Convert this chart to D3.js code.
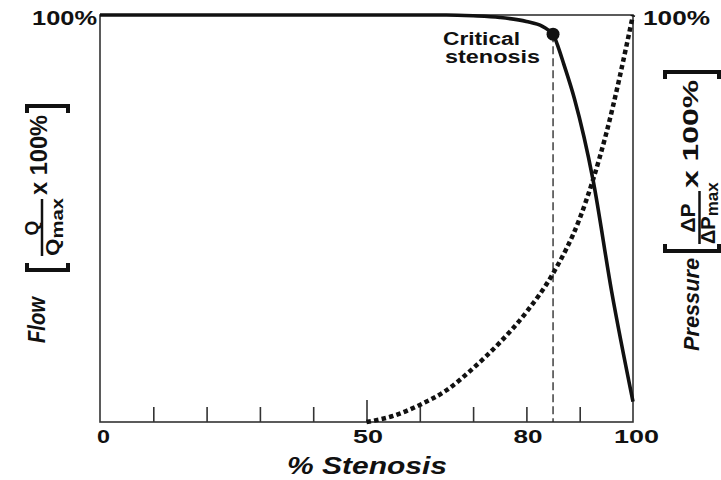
<!DOCTYPE html>
<html>
<head>
<meta charset="utf-8">
<script src="https://cdn.jsdelivr.net/npm/d3@7"></script>
<style>
  html, body { margin: 0; padding: 0; background: #fff; }
  svg { display: block; }
  text { font-family: "Liberation Sans", Arial, Helvetica, sans-serif; font-weight: bold; fill: #111; }
</style>
</head>
<body>
<div id="chart"></div>
<script>
// ---- data ----
const stenosis = [0, 50, 60, 65, 70, 75, 80, 83, 84, 85, 86, 87, 89, 92.5, 96, 100];
const flowPct  = [100, 100, 100, 100, 99.8, 99.4, 98.4, 97.2, 96.4, 95.3, 92, 88, 79.5, 59.5, 32, 5];
const pressStenosis = [50, 55, 60, 65, 70, 75, 80, 85, 90, 95, 100];
const pressurePct   = [0, 1.5, 4.2, 7.8, 13.2, 19.5, 27, 36.5, 50, 71, 100];
const minorTicks = [10, 20, 30, 40, 60, 70, 80, 90];
const majorTicks = [50];
const tickLabels = [0, 50, 80, 100];
const criticalStenosis = 85;
const criticalFlow = 95.3;

const W = 721, H = 480;
const svg = d3.select("#chart").append("svg").attr("width", W).attr("height", H);

const x = d3.scaleLinear().domain([0, 100]).range([100, 633]);
const y = d3.scaleLinear().domain([0, 100]).range([422, 15]);

// frame
svg.append("rect")
  .attr("x", x(0)).attr("y", y(100))
  .attr("width", x(100) - x(0)).attr("height", y(0) - y(100))
  .attr("fill", "none").attr("stroke", "#333").attr("stroke-width", 1.6);

// inward ticks
const minorAxis = d3.axisBottom(x).tickValues(minorTicks).tickSizeInner(-15).tickSizeOuter(0).tickFormat("");
const gMinor = svg.append("g").attr("transform", `translate(0,${y(0)})`).call(minorAxis);
const majorAxis = d3.axisBottom(x).tickValues(majorTicks).tickSizeInner(-22).tickSizeOuter(0).tickFormat("");
const gMajor = svg.append("g").attr("transform", `translate(0,${y(0)})`).call(majorAxis);
[gMinor, gMajor].forEach(g => {
  g.select(".domain").remove();
  g.selectAll(".tick line").attr("stroke", "#333").attr("stroke-width", 1.6);
});

// tick labels
const labelLen = {0: 13, 50: 30, 80: 29, 100: 45};
const labelAxis = d3.axisBottom(x).tickValues(tickLabels).tickSize(0).tickPadding(0).tickFormat(d3.format("d"));
const gLab = svg.append("g").attr("transform", `translate(0,${y(0)})`).call(labelAxis);
gLab.select(".domain").remove();
gLab.selectAll(".tick text")
  .attr("y", 21).attr("dy", 0)
  .attr("fill", "#111")
  .style("font-family", '"Liberation Sans", Arial, sans-serif')
  .style("font-weight", "bold")
  .style("font-size", "19px")
  .attr("dx", d => d === 100 ? 3 : (d === 0 ? 3 : 1))
  .attr("textLength", d => labelLen[d])
  .attr("lengthAdjust", "spacingAndGlyphs");

// x title
svg.append("text").attr("x", 367).attr("y", 474).attr("text-anchor", "middle")
  .style("font-size", "23px").style("font-style", "italic")
  .attr("textLength", 160).attr("lengthAdjust", "spacingAndGlyphs")
  .text("% Stenosis");

// 100% labels
svg.append("text").attr("x", 97).attr("y", 25).attr("text-anchor", "end")
  .style("font-size", "21px").attr("textLength", 65).attr("lengthAdjust", "spacingAndGlyphs").text("100%");
svg.append("text").attr("x", 643).attr("y", 25).attr("text-anchor", "start")
  .style("font-size", "21px").attr("textLength", 67).attr("lengthAdjust", "spacingAndGlyphs").text("100%");

// dashed critical line
svg.append("line")
  .attr("x1", x(criticalStenosis)).attr("x2", x(criticalStenosis))
  .attr("y1", y(criticalFlow)).attr("y2", y(0))
  .attr("stroke", "#222").attr("stroke-width", 1.3).attr("stroke-dasharray", "8,4");

// pressure (dotted)
const pressLine = d3.line().x((d, i) => x(pressStenosis[i])).y(d => y(d)).curve(d3.curveMonotoneX);
svg.append("path").attr("d", pressLine(pressurePct))
  .attr("fill", "none").attr("stroke", "#111").attr("stroke-width", 4.5)
  .attr("stroke-dasharray", "4.5,3.2");

// flow (solid)
const flowLine = d3.line().x((d, i) => x(stenosis[i])).y(d => y(d)).curve(d3.curveMonotoneX);
svg.append("path").attr("d", flowLine(flowPct))
  .attr("fill", "none").attr("stroke", "#111").attr("stroke-width", 3.6);

// critical dot
svg.append("circle").attr("cx", x(criticalStenosis)).attr("cy", y(criticalFlow)).attr("r", 6.5).attr("fill", "#111");

// annotation
svg.append("text").attr("x", 443).attr("y", 45).style("font-size", "18px")
  .attr("textLength", 77).attr("lengthAdjust", "spacingAndGlyphs").text("Critical");
svg.append("text").attr("x", 445).attr("y", 63).style("font-size", "18px")
  .attr("textLength", 95).attr("lengthAdjust", "spacingAndGlyphs").text("stenosis");

// ---- rotated axis titles ----
// group rotated -90; local x = -screenY, local y = screenX
function bracket(g, sy, x1, x2, dir) {
  const lx = -sy, s = 7 * dir;
  g.append("path")
    .attr("d", `M${lx + s},${x1} L${lx},${x1} L${lx},${x2} L${lx + s},${x2}`)
    .attr("fill", "none").attr("stroke", "#111").attr("stroke-width", 4).attr("stroke-linejoin", "miter");
}

// left
const gl = svg.append("g").attr("transform", "rotate(-90)");
gl.append("text").attr("x", -343).attr("y", 45).style("font-size", "23px").style("font-style", "italic")
  .attr("textLength", 46).attr("lengthAdjust", "spacingAndGlyphs").text("Flow");
bracket(gl, 270, 27, 68, 1);
gl.append("text").attr("x", -228).attr("y", 38).attr("text-anchor", "middle").style("font-size", "19px").text("Q");
gl.append("line").attr("x1", -256).attr("x2", -199).attr("y1", 42).attr("y2", 42).attr("stroke", "#111").attr("stroke-width", 2.5);
const dl = gl.append("text").attr("x", -227).attr("y", 59).attr("text-anchor", "middle").style("font-size", "19px")
  .attr("textLength", 58).attr("lengthAdjust", "spacingAndGlyphs");
dl.append("tspan").text("Q");
dl.append("tspan").attr("dy", 4).style("font-size", "17px").text("max");
gl.append("text").attr("x", -195).attr("y", 47).style("font-size", "23px")
  .attr("textLength", 80).attr("lengthAdjust", "spacingAndGlyphs").text("x 100%");
bracket(gl, 106, 27, 68, -1);

// right
const gr = svg.append("g").attr("transform", "rotate(-90)");
gr.append("text").attr("x", -351).attr("y", 699).style("font-size", "22px").style("font-style", "italic")
  .attr("textLength", 93).attr("lengthAdjust", "spacingAndGlyphs").text("Pressure");
bracket(gr, 251, 665, 719, 1);
gr.append("text").attr("x", -218).attr("y", 695).attr("text-anchor", "middle").style("font-size", "21px").text("ΔP");
gr.append("line").attr("x1", -244).attr("x2", -191).attr("y1", 699.5).attr("y2", 699.5).attr("stroke", "#111").attr("stroke-width", 2.5);
const dr = gr.append("text").attr("x", -244).attr("y", 715).attr("text-anchor", "start").style("font-size", "20px");
dr.append("tspan").text("ΔP");
dr.append("tspan").attr("dy", 3).style("font-size", "17px").text("max");
gr.append("text").attr("x", -188).attr("y", 698).style("font-size", "22px")
  .attr("textLength", 108).attr("lengthAdjust", "spacingAndGlyphs").text("x 100%");
bracket(gr, 72, 665, 719, -1);
</script>
</body>
</html>
